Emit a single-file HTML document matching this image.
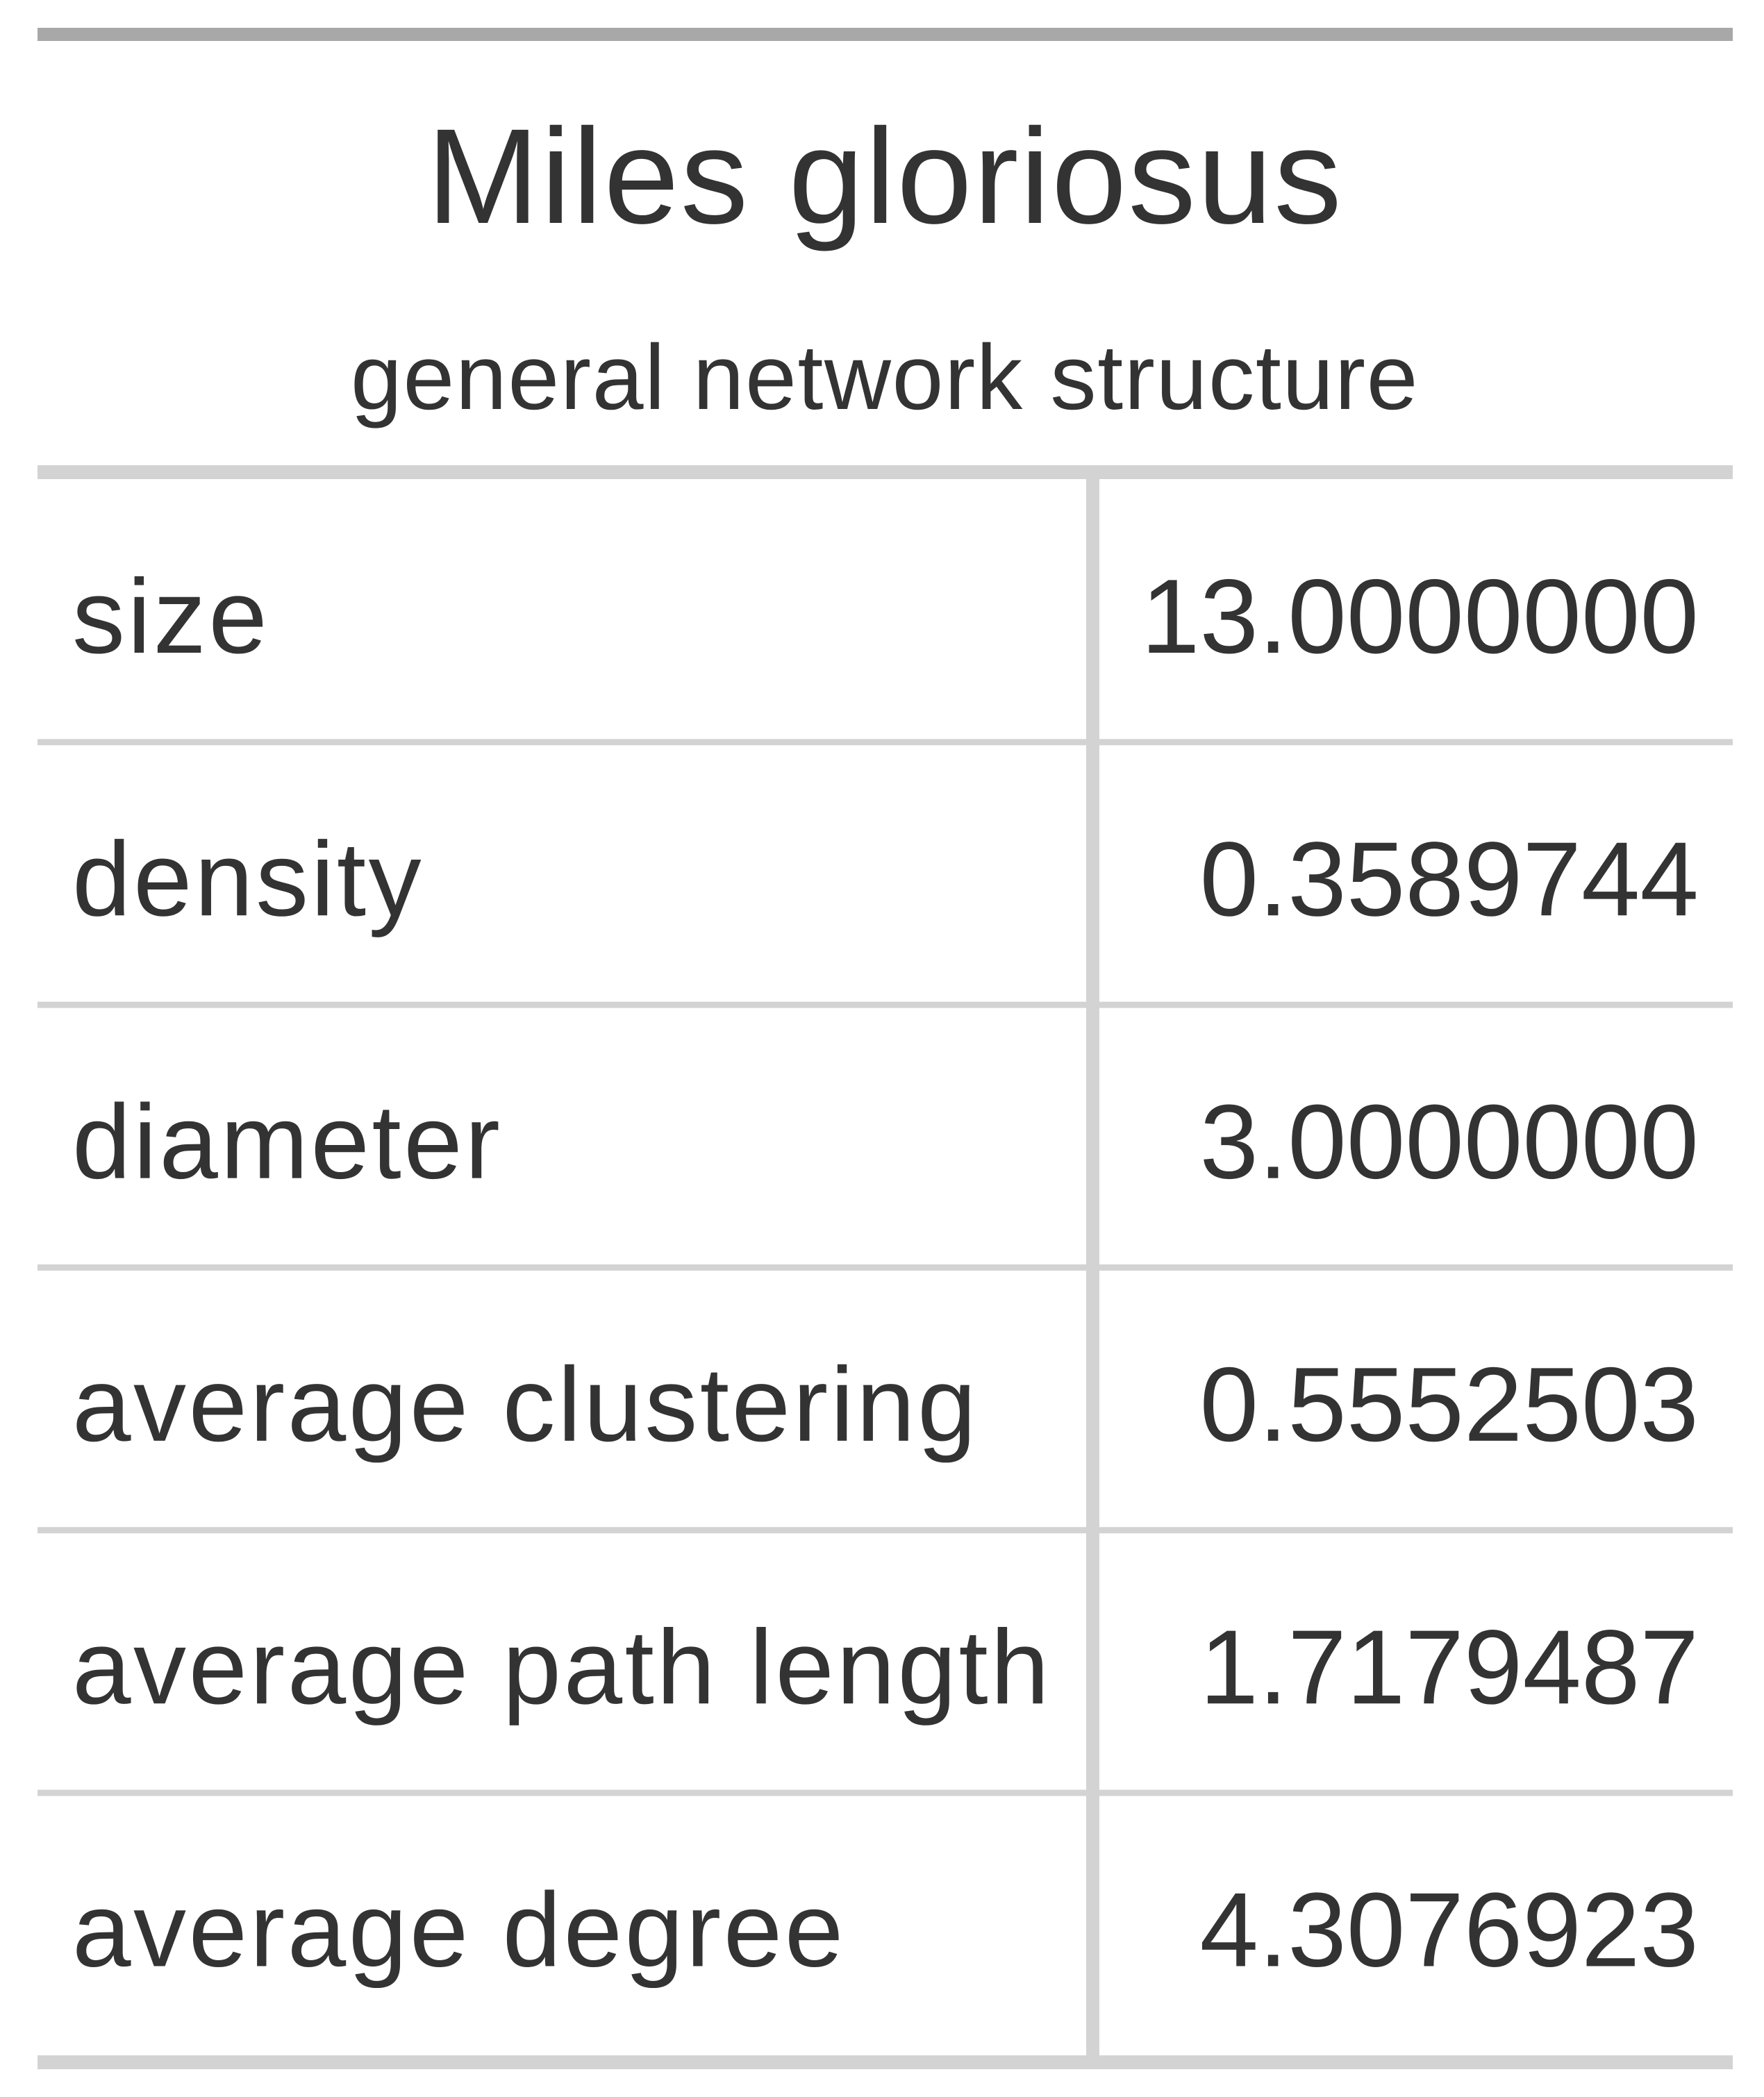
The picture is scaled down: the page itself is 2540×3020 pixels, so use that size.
<!DOCTYPE html>
<html><head><meta charset="utf-8"><style>
html,body{margin:0;padding:0;background:#fff;}
svg{display:block;}
text{font-family:"Liberation Sans",sans-serif;fill:#333333;}
</style></head><body>
<svg width="2540" height="3020" viewBox="0 0 2540 3020" xmlns="http://www.w3.org/2000/svg">
<rect x="0" y="0" width="2540" height="3020" fill="#fff"/>
<rect x="54" y="40" width="2441" height="19" fill="#a8a8a8"/>
<text x="1274" y="321" font-size="195" letter-spacing="2" text-anchor="middle">Miles gloriosus</text>
<text x="1274" y="589" font-size="133" letter-spacing="1.5" text-anchor="middle">general network structure</text>
<rect x="54" y="670" width="2441" height="20" fill="#d3d3d3"/>
<rect x="54" y="2960" width="2441" height="20" fill="#d3d3d3"/>
<rect x="1564" y="690" width="19" height="2270" fill="#d3d3d3"/>
<g id="rows"></g>
</svg>
<script>
const labels = ["size","density","diameter","average clustering","average path length","average degree"];
const values = ["13.0000000","0.3589744","3.0000000","0.5552503","1.7179487","4.3076923"];
const g = document.getElementById('rows');
const NS = 'http://www.w3.org/2000/svg';
const top0 = 690, rowH = 378.3;
labels.forEach((lab, i) => {
  const y0 = top0 + i * rowH;
  if (i > 0) {
    const ln = document.createElementNS(NS, 'rect');
    ln.setAttribute('x', 54); ln.setAttribute('y', y0 - 4);
    ln.setAttribute('width', 2441); ln.setAttribute('height', 9);
    ln.setAttribute('fill', '#d3d3d3');
    
    
    g.appendChild(ln);
  }
  const t1 = document.createElementNS(NS, 'text');
  t1.setAttribute('x', 104); t1.setAttribute('y', y0 + 250);
  t1.setAttribute('font-size', 152);
  t1.setAttribute('letter-spacing', 3.5);
  t1.textContent = lab;
  
  
  g.appendChild(t1);
  const t2 = document.createElementNS(NS, 'text');
  t2.setAttribute('x', 2446); t2.setAttribute('y', y0 + 250);
  t2.setAttribute('font-size', 152);
  t2.setAttribute('text-anchor', 'end');
  t2.textContent = values[i];
  
  
  g.appendChild(t2);
});
</script>
</body></html>
